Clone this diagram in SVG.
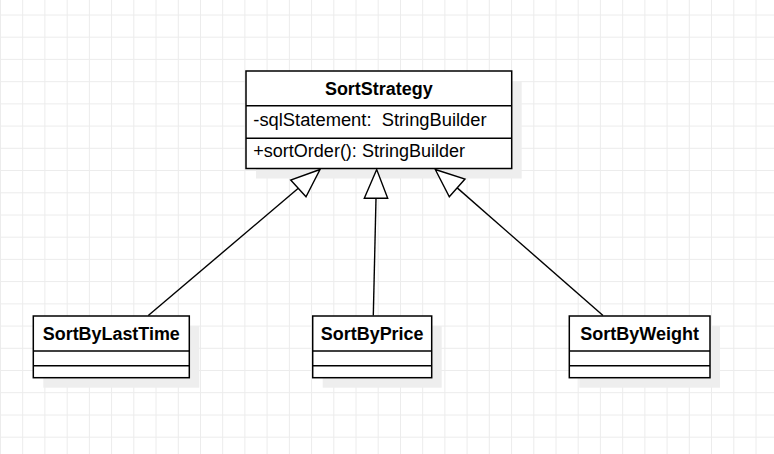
<svg xmlns="http://www.w3.org/2000/svg" width="774" height="454" viewBox="0 0 774 454">
<style>
.grid{stroke:#ececec;stroke-width:1;fill:none}
.shadow{fill:#eeeeee;stroke:none}
.box{fill:#ffffff;stroke:#000000;stroke-width:1.5}
.sep{stroke:#000000;stroke-width:1.5;fill:none}
.t{font-family:"Liberation Sans",Arial,sans-serif;font-size:18px;fill:#000000}
.b{font-weight:bold;text-anchor:middle}
.edge{stroke:#000000;stroke-width:1.4;fill:none}
.head{stroke:#000000;stroke-width:1.4;fill:#ffffff;stroke-linejoin:miter}
</style>
<rect width="774" height="454" fill="#ffffff"/>
<path class="grid" d="M0.5 0V454M22.7 0V454M44.9 0V454M67.2 0V454M89.4 0V454M111.6 0V454M133.8 0V454M156 0V454M178.3 0V454M200.5 0V454M222.7 0V454M244.9 0V454M267.1 0V454M289.4 0V454M311.6 0V454M333.8 0V454M356 0V454M378.2 0V454M400.5 0V454M422.7 0V454M444.9 0V454M467.1 0V454M489.3 0V454M511.6 0V454M533.8 0V454M556 0V454M578.2 0V454M600.4 0V454M622.7 0V454M644.9 0V454M667.1 0V454M689.3 0V454M711.5 0V454M733.8 0V454M756 0V454M0 15H774M0 37.2H774M0 59.4H774M0 81.7H774M0 103.9H774M0 126.1H774M0 148.3H774M0 170.5H774M0 192.8H774M0 215H774M0 237.2H774M0 259.4H774M0 281.6H774M0 303.9H774M0 326.1H774M0 348.3H774M0 370.5H774M0 392.7H774M0 415H774M0 437.2H774"/>

<g id="SortStrategy">
<rect class="shadow" x="256" y="81" width="265.7" height="97.5"/>
<rect class="box" x="246" y="71" width="265.7" height="97.5"/>
<line class="sep" x1="246" y1="105.7" x2="511.7" y2="105.7"/>
<line class="sep" x1="246" y1="138.3" x2="511.7" y2="138.3"/>
<text class="t b" x="378.8" y="94.5" textLength="107.7" lengthAdjust="spacingAndGlyphs">SortStrategy</text>
<text class="t" x="253.3" y="126.3" xml:space="preserve" textLength="233.3" lengthAdjust="spacingAndGlyphs">-sqlStatement:  StringBuilder</text>
<text class="t" x="253.3" y="157.3" textLength="211.7" lengthAdjust="spacingAndGlyphs">+sortOrder(): StringBuilder</text>
</g>

<g id="SortByLastTime">
<rect class="shadow" x="43.3" y="326" width="156" height="61.7"/>
<rect class="box" x="33.3" y="316" width="156" height="61.7"/>
<line class="sep" x1="33.3" y1="351" x2="189.3" y2="351"/>
<line class="sep" x1="33.3" y1="365.7" x2="189.3" y2="365.7"/>
<text class="t b" x="111.3" y="339.5" textLength="137" lengthAdjust="spacingAndGlyphs">SortByLastTime</text>
</g>

<g id="SortByPrice">
<rect class="shadow" x="322.7" y="326" width="119" height="61.7"/>
<rect class="box" x="312.7" y="316" width="119" height="61.7"/>
<line class="sep" x1="312.7" y1="351" x2="431.7" y2="351"/>
<line class="sep" x1="312.7" y1="365.7" x2="431.7" y2="365.7"/>
<text class="t b" x="372.2" y="339.5" textLength="102.7" lengthAdjust="spacingAndGlyphs">SortByPrice</text>
</g>

<g id="SortByWeight">
<rect class="shadow" x="579.3" y="326" width="140.7" height="61.7"/>
<rect class="box" x="569.3" y="316" width="140.7" height="61.7"/>
<line class="sep" x1="569.3" y1="351" x2="710" y2="351"/>
<line class="sep" x1="569.3" y1="365.7" x2="710" y2="365.7"/>
<text class="t b" x="639.7" y="339.5" textLength="118.7" lengthAdjust="spacingAndGlyphs">SortByWeight</text>
</g>

<g id="connectors">
<line class="edge" x1="148.3" y1="315.5" x2="298.3" y2="188.3"/>
<polygon class="head" points="320,169.5 290.7,180 306,196.7"/>
<line class="edge" x1="373.3" y1="315.5" x2="376" y2="198.3"/>
<polygon class="head" points="376.7,169.5 364.3,198.3 387.7,198.3"/>
<line class="edge" x1="603" y1="315.5" x2="457.2" y2="187.9"/>
<polygon class="head" points="435.3,169.5 465,179 449.3,196.7"/>
</g>
</svg>
